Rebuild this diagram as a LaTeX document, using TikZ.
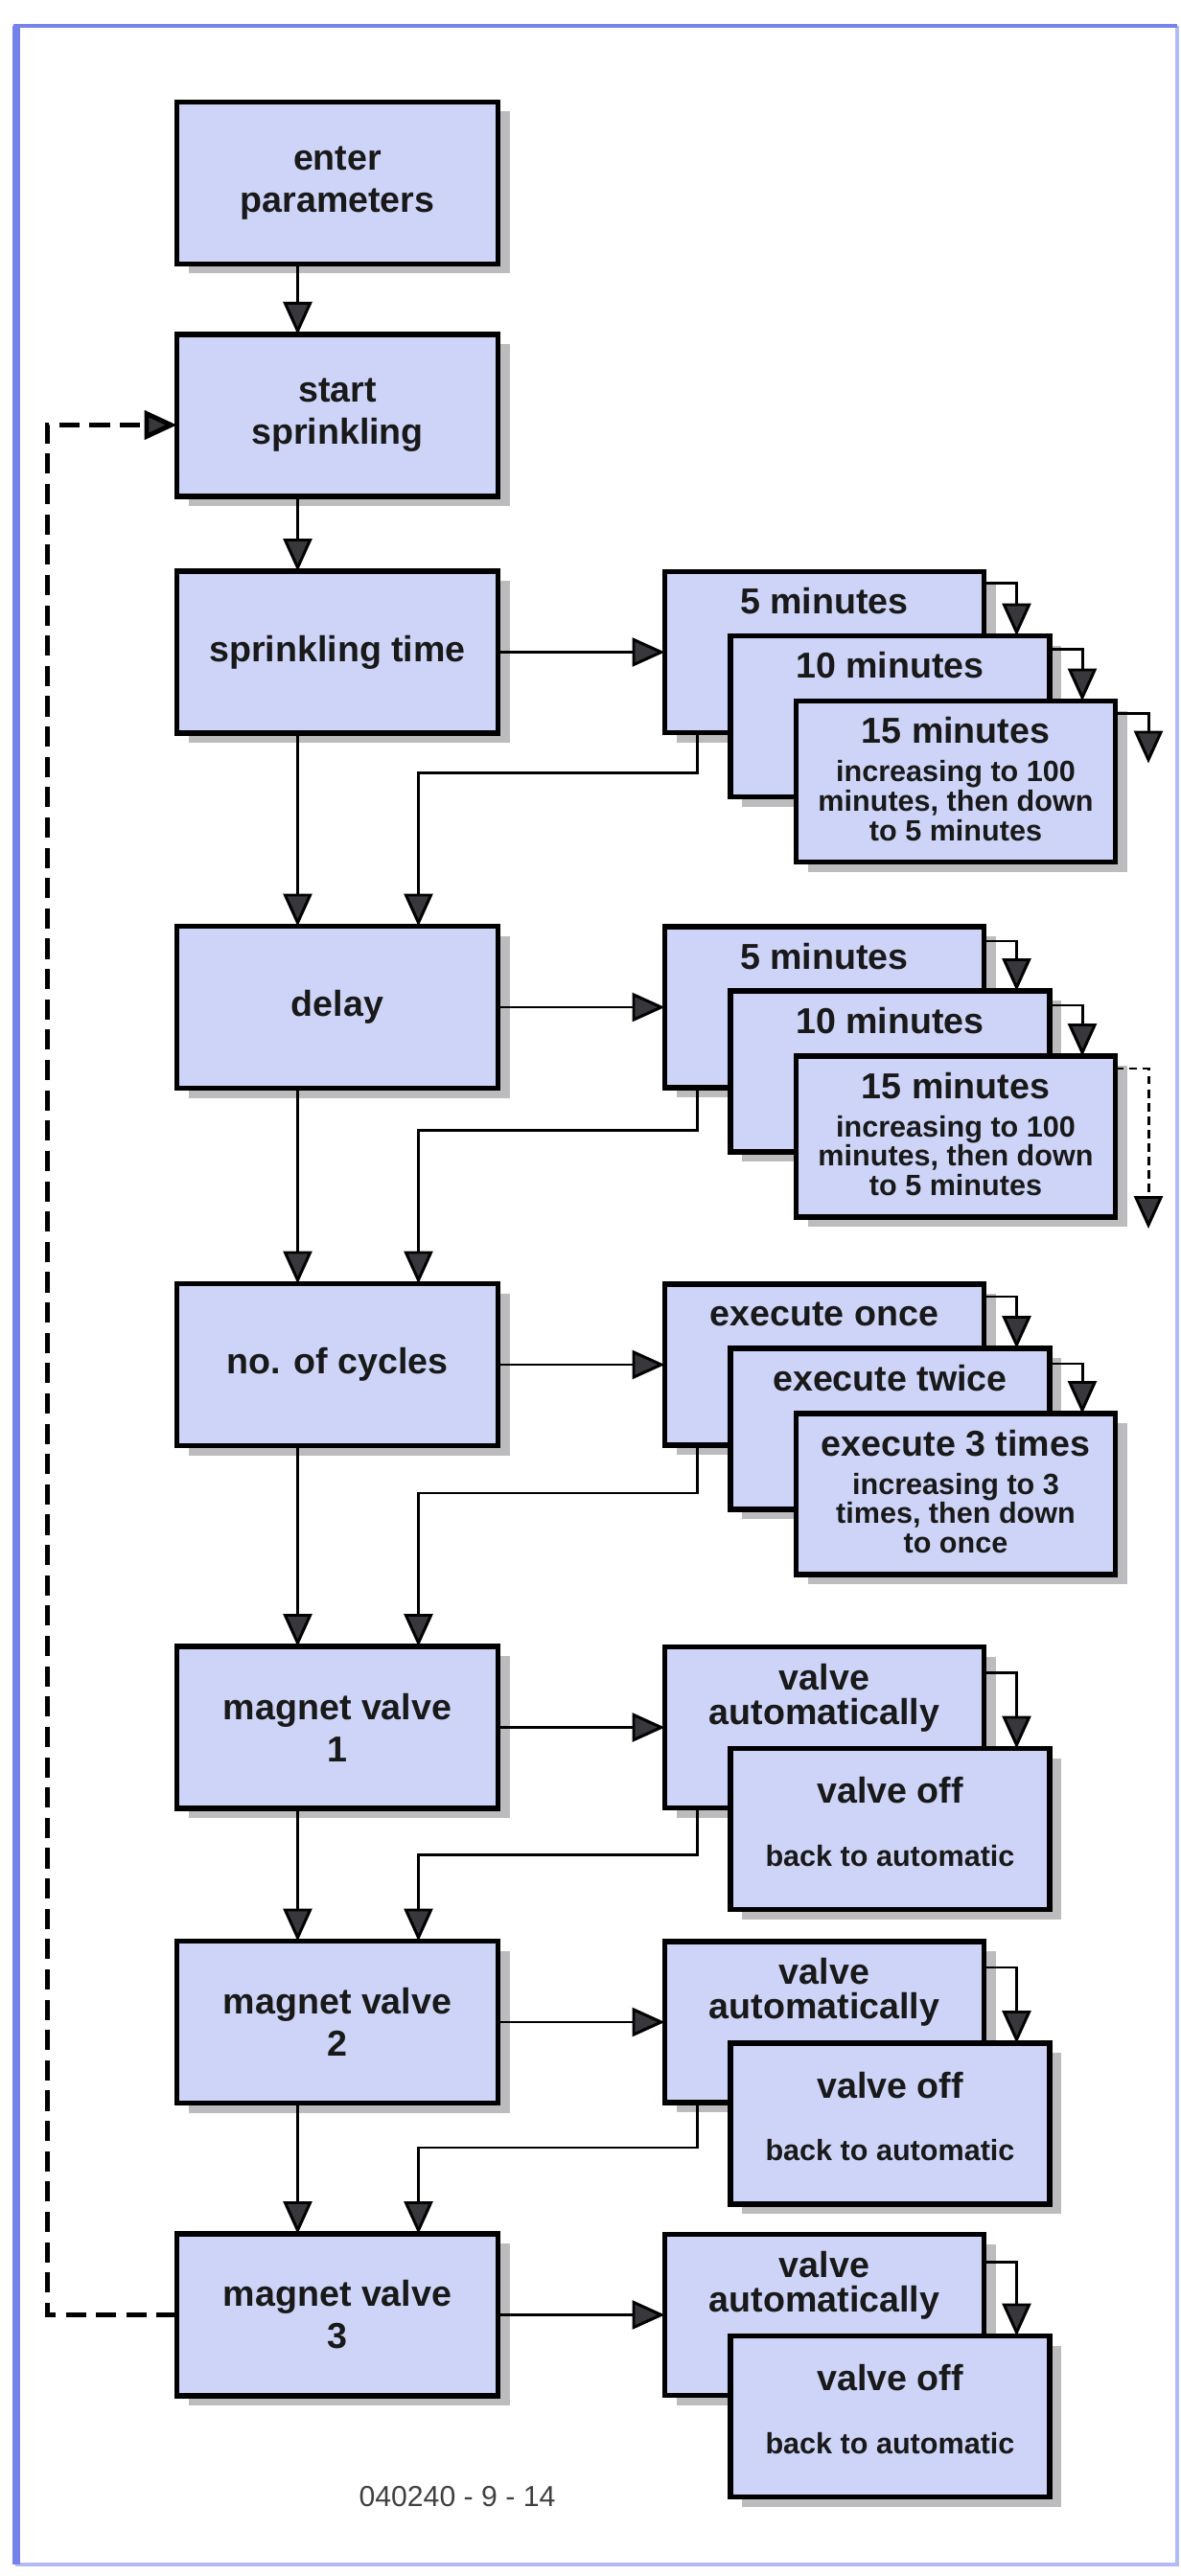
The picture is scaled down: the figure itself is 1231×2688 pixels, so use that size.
\documentclass[tikz,border=0pt]{standalone}
\usepackage{fontspec}
\setmainfont{Liberation Sans}
\usepackage{tikz}
\usetikzlibrary{arrows.meta,positioning,calc,shadows}
\definecolor{boxFill}{RGB}{206,212,247}
\definecolor{frameBlue}{RGB}{118,130,236}
\definecolor{inkArrow}{RGB}{55,55,60}
\definecolor{shade}{RGB}{188,188,190}

\begin{document}
\begin{tikzpicture}[x=0.1mm,y=-0.1mm,
  box/.style={draw=black,line width=1.6pt,fill=boxFill,minimum width=33.5mm,minimum height=16.9mm,
              inner sep=0pt,outer sep=0pt,align=center,text=black!90,
              font=\fontsize{10.7}{12.5}\selectfont\bfseries,
              drop shadow={shadow xshift=1.2mm,shadow yshift=-1mm,fill=shade,opacity=1}},
  sbox/.style={box,minimum width=33.3mm,minimum height=16.8mm},
  ttl/.style={inner sep=0pt,align=center,text=black!90,font=\fontsize{10.7}{12.5}\selectfont\bfseries},
  ttlb/.style={ttl,font=\fontsize{10.7}{10.2}\selectfont\bfseries},
  note/.style={inner sep=0pt,align=center,text=black!90,font=\fontsize{8.7}{8.8}\selectfont\bfseries},
  arr/.style={line width=0.85pt,-{Triangle[length=3.4mm,width=3mm,fill=inkArrow]}},
  back/.style={arr,line width=1.4pt,dash pattern=on 6pt off 3pt}]
  \useasboundingbox (0,0) rectangle (1231,2688);
  \draw[frameBlue!55,line width=1.2pt] (1228,27) -- (1228,2676) -- (16,2676);
  \draw[frameBlue,line width=1.3pt] (16,2676) -- (16,27) -- (1228,27);
  \draw[frameBlue,line width=2pt] (17,27) -- (17,2676);

  \node[box] (enter) at (352,191) {enter\\parameters};
  \node[box,below=7.35mm of enter] (start) {start\\sprinkling};
  \node[box,below=7.8mm of start] (sprtime) {sprinkling time};
  \node[box,below=20.15mm of sprtime] (delay) {delay};
  \node[box,below=20.4mm of delay] (cycles) {no. of cycles};
  \node[box,below=20.95mm of cycles] (mv1) {magnet valve\\1};
  \node[box,below=13.85mm of mv1] (mv2) {magnet valve\\2};
  \node[box,below=13.65mm of mv2] (mv3) {magnet valve\\3};

  \node[sbox,right=17.4mm of sprtime] (spa) {};
  \node[ttl] (spaT) at ([yshift=-3.1mm]spa.north) {5 minutes};
  \node[sbox] (spb) at ([shift={(6.85mm,-6.7mm)}]spa) {};
  \node[ttl] (spbT) at ([yshift=-3.1mm]spb.north) {10 minutes};
  \node[sbox] (spc) at ([shift={(6.85mm,-6.8mm)}]spb) {};
  \node[ttl] (spcT) at ([yshift=-3.1mm]spc.north) {15 minutes};
  \node[note] (spcN) at ([yshift=-10.4mm]spc.north) {increasing to 100\\minutes, then down\\to 5 minutes};

  \node[sbox,right=17.4mm of delay] (dla) {};
  \node[ttl] (dlaT) at ([yshift=-3.1mm]dla.north) {5 minutes};
  \node[sbox] (dlb) at ([shift={(6.85mm,-6.7mm)}]dla) {};
  \node[ttl] (dlbT) at ([yshift=-3.1mm]dlb.north) {10 minutes};
  \node[sbox] (dlc) at ([shift={(6.85mm,-6.8mm)}]dlb) {};
  \node[ttl] (dlcT) at ([yshift=-3.1mm]dlc.north) {15 minutes};
  \node[note] (dlcN) at ([yshift=-10.4mm]dlc.north) {increasing to 100\\minutes, then down\\to 5 minutes};

  \node[sbox,right=17.4mm of cycles] (cya) {};
  \node[ttl] (cyaT) at ([yshift=-3.1mm]cya.north) {execute once};
  \node[sbox] (cyb) at ([shift={(6.85mm,-6.7mm)}]cya) {};
  \node[ttl] (cybT) at ([yshift=-3.1mm]cyb.north) {execute twice};
  \node[sbox] (cyc) at ([shift={(6.85mm,-6.8mm)}]cyb) {};
  \node[ttl] (cycT) at ([yshift=-3.1mm]cyc.north) {execute 3 times};
  \node[note] (cycN) at ([yshift=-10.4mm]cyc.north) {increasing to 3\\times, then down\\to once};

  \node[sbox,right=17.4mm of mv1] (v1a) {};
  \node[ttlb] (v1aT) at ([yshift=-5.3mm]v1a.north) {valve\\automatically};
  \node[sbox] (v1b) at ([shift={(6.85mm,-10.6mm)}]v1a) {};
  \node[ttl] (v1bT) at ([yshift=-4.4mm]v1b.north) {valve off};
  \node[note] (v1bN) at ([yshift=-11.2mm]v1b.north) {back to automatic};

  \node[sbox,right=17.4mm of mv2] (v2a) {};
  \node[ttlb] (v2aT) at ([yshift=-5.3mm]v2a.north) {valve\\automatically};
  \node[sbox] (v2b) at ([shift={(6.85mm,-10.6mm)}]v2a) {};
  \node[ttl] (v2bT) at ([yshift=-4.4mm]v2b.north) {valve off};
  \node[note] (v2bN) at ([yshift=-11.2mm]v2b.north) {back to automatic};

  \node[sbox,right=17.4mm of mv3] (v3a) {};
  \node[ttlb] (v3aT) at ([yshift=-5.3mm]v3a.north) {valve\\automatically};
  \node[sbox] (v3b) at ([shift={(6.85mm,-10.6mm)}]v3a) {};
  \node[ttl] (v3bT) at ([yshift=-4.4mm]v3b.north) {valve off};
  \node[note] (v3bN) at ([yshift=-11.2mm]v3b.north) {back to automatic};

  \node[font=\fontsize{8.6}{10}\selectfont,text=black!75] (figno) at (477,2605) {040240 - 9 - 14};

  \draw[arr] ([xshift=-4.15mm]enter.south) -- ([xshift=-4.15mm]start.north);
  \draw[arr] ([xshift=-4.15mm]start.south) -- ([xshift=-4.15mm]sprtime.north);
  \draw[arr] ([xshift=-4.15mm]sprtime.south) -- ([xshift=-4.15mm]delay.north);
  \draw[arr] ([xshift=-4.15mm]delay.south) -- ([xshift=-4.15mm]cycles.north);
  \draw[arr] ([xshift=-4.15mm]cycles.south) -- ([xshift=-4.15mm]mv1.north);
  \draw[arr] ([xshift=-4.15mm]mv1.south) -- ([xshift=-4.15mm]mv2.north);
  \draw[arr] ([xshift=-4.15mm]mv2.south) -- ([xshift=-4.15mm]mv3.north);

  \draw[arr] (sprtime.east) -- (spa.west);
  \draw[arr] (delay.east) -- (dla.west);
  \draw[arr] (cycles.east) -- (cya.west);
  \draw[arr] (mv1.east) -- (v1a.west);
  \draw[arr] (mv2.east) -- (v2a.west);
  \draw[arr] (mv3.east) -- (v3a.west);

  \draw[arr] ([xshift=-13.25mm]spa.south) |- ([xshift=8.45mm,yshift=16mm]delay.north) -- ([xshift=8.45mm]delay.north);
  \draw[arr] ([xshift=-13.25mm]dla.south) |- ([xshift=8.45mm,yshift=16mm]cycles.north) -- ([xshift=8.45mm]cycles.north);
  \draw[arr] ([xshift=-13.25mm]cya.south) |- ([xshift=8.45mm,yshift=16mm]mv1.north) -- ([xshift=8.45mm]mv1.north);
  \draw[arr] ([xshift=-13.25mm]v1a.south) |- ([xshift=8.45mm,yshift=9mm]mv2.north) -- ([xshift=8.45mm]mv2.north);
  \draw[arr] ([xshift=-13.25mm]v2a.south) |- ([xshift=8.45mm,yshift=9mm]mv3.north) -- ([xshift=8.45mm]mv3.north);

  \draw[arr] ([yshift=-1.2mm]spa.north east) -| ([xshift=-3.45mm]spb.north east);
  \draw[arr] ([yshift=-1.4mm]spb.north east) -| ([xshift=-3.45mm]spc.north east);
  \coordinate (spEnd) at ([xshift=3.45mm,yshift=-6.5mm]spc.north east);
  \draw[arr] ([yshift=-1.3mm]spc.north east) -| (spEnd);
  \draw[arr] ([yshift=-1.5mm]dla.north east) -| ([xshift=-3.45mm]dlb.north east);
  \draw[arr] ([yshift=-1.5mm]dlb.north east) -| ([xshift=-3.45mm]dlc.north east);
  \coordinate (dlEnd) at ([xshift=3.45mm,yshift=-18mm]dlc.north east);
  \draw[arr,dash pattern=on 2.5pt off 1.5pt] ([yshift=-1.3mm]dlc.north east) -| (dlEnd);
  \draw[arr] ([yshift=-1.3mm]cya.north east) -| ([xshift=-3.45mm]cyb.north east);
  \draw[arr] ([yshift=-1.6mm]cyb.north east) -| ([xshift=-3.45mm]cyc.north east);
  \draw[arr] ([yshift=-2.7mm]v1a.north east) -| ([xshift=-3.45mm]v1b.north east);
  \draw[arr] ([yshift=-2.7mm]v2a.north east) -| ([xshift=-3.45mm]v2b.north east);
  \draw[arr] ([yshift=-2.9mm]v3a.north east) -| ([xshift=-3.45mm]v3b.north east);

  \draw[back] (mv3.west) -- ++(-13.5mm,0) |- ([yshift=-1mm]start.west);
\end{tikzpicture}
\end{document}
